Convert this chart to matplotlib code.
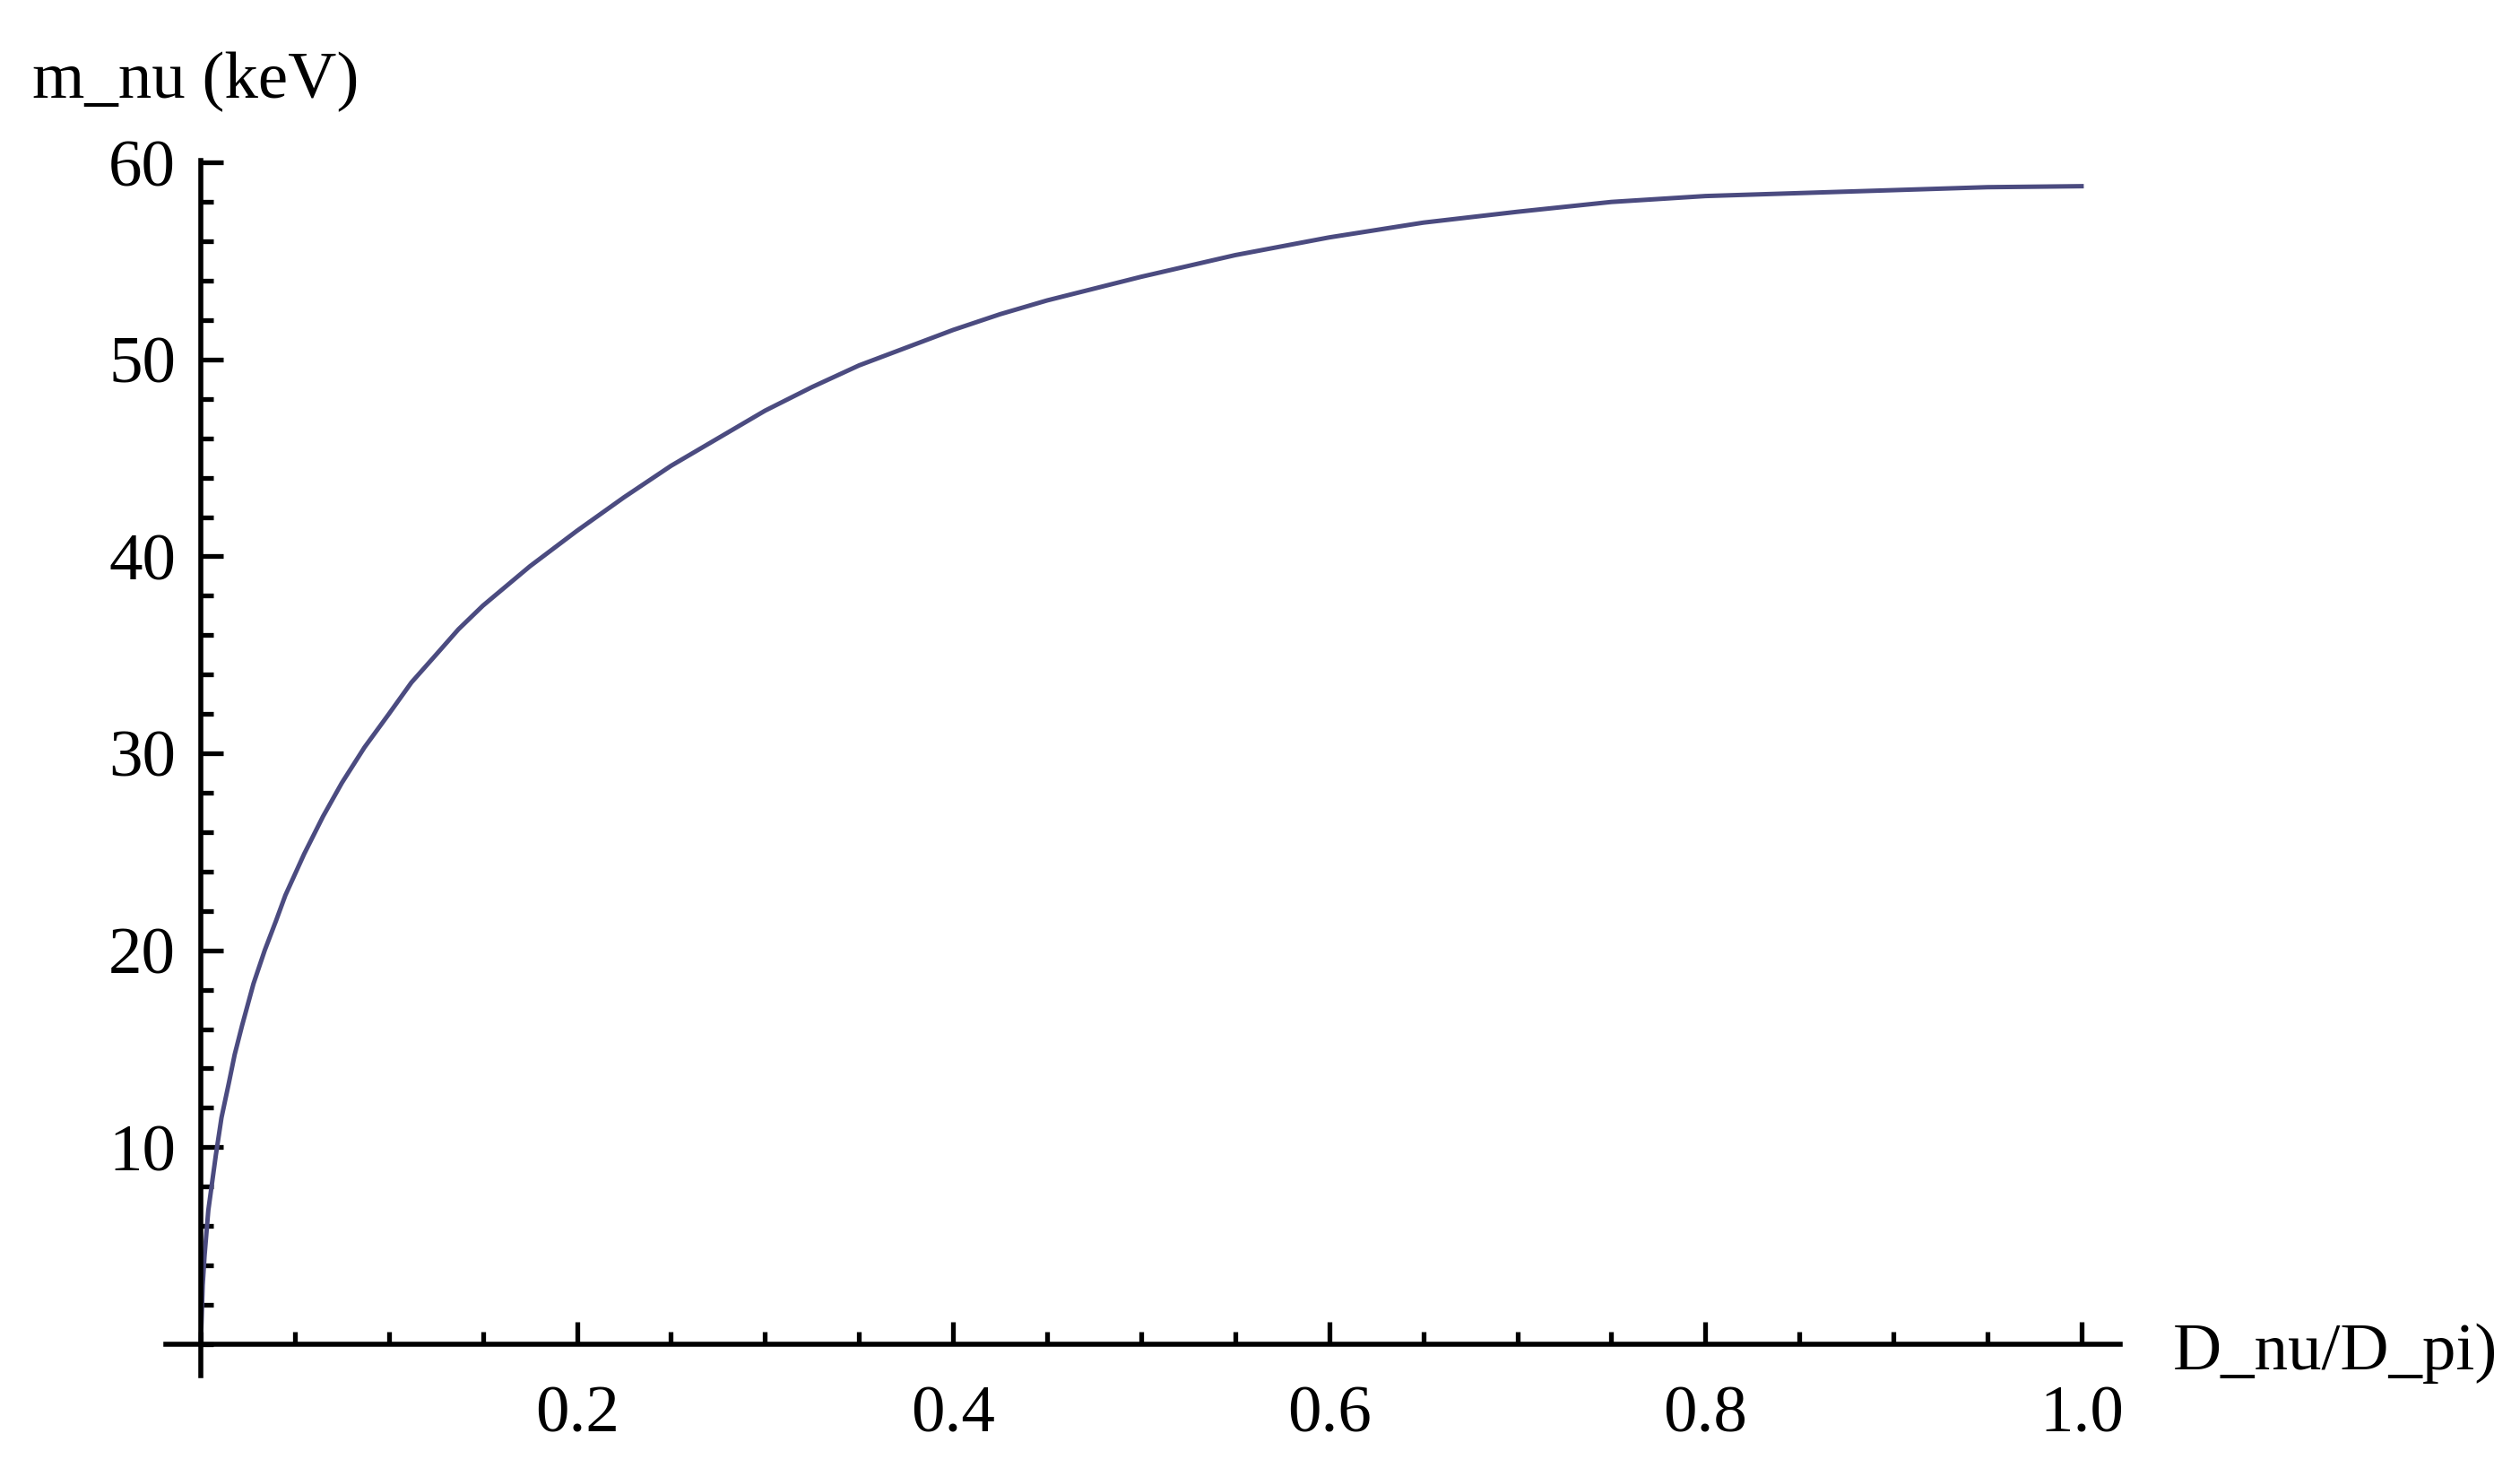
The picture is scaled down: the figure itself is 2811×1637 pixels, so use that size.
import matplotlib
matplotlib.use("Agg")
import matplotlib.pyplot as plt
from matplotlib.ticker import MultipleLocator, FixedLocator

# values
ratio = [0, 0.001, 0.002, 0.004, 0.008, 0.011, 0.015, 0.018, 0.022, 0.028,
         0.034, 0.04, 0.045, 0.055, 0.065, 0.075, 0.087, 0.1, 0.112, 0.125,
         0.137, 0.15, 0.175, 0.2, 0.225, 0.25, 0.275, 0.3, 0.325, 0.35,
         0.375, 0.4, 0.425, 0.45, 0.475, 0.5, 0.55, 0.6, 0.65, 0.7,
         0.75, 0.8, 0.85, 0.9, 0.95, 1.0]
mass = [0, 3.0, 4.5, 6.8, 9.6, 11.5, 13.3, 14.7, 16.2, 18.3,
        20.0, 21.5, 22.8, 24.9, 26.8, 28.5, 30.3, 32.0, 33.6, 35.0,
        36.3, 37.5, 39.5, 41.3, 43.0, 44.6, 46.0, 47.4, 48.6, 49.7,
        50.6, 51.5, 52.3, 53.0, 53.6, 54.2, 55.3, 56.2, 56.95, 57.5,
        58.0, 58.3, 58.45, 58.6, 58.75, 58.8]

xticks = [0.2, 0.4, 0.6, 0.8, 1.0]
xtick_labels = ["0.2", "0.4", "0.6", "0.8", "1.0"]
yticks = [10, 20, 30, 40, 50, 60]

plt.rcParams['font.family'] = ['Liberation Serif', 'DejaVu Serif']

fig = plt.figure(figsize=(28.11, 16.37), dpi=100)
ax = fig.add_axes([0.0658, 0.0629, 0.7755, 0.8277])

ax.plot(ratio, mass, color='#4b4b80', linewidth=3.6, solid_joinstyle='round')

ax.set_xlim(-0.0186, 1.0205)
ax.set_ylim(-1.6, 60.1)

# axes cross at the origin
for side in ['top', 'right']:
    ax.spines[side].set_visible(False)
ax.spines['left'].set_position(('data', 0))
ax.spines['bottom'].set_position(('data', 0))
ax.spines['left'].set_linewidth(4)
ax.spines['bottom'].set_linewidth(4)

ax.xaxis.set_major_locator(FixedLocator(xticks))
ax.set_xticklabels(xtick_labels)
ax.xaxis.set_minor_locator(MultipleLocator(0.05))
ax.yaxis.set_major_locator(FixedLocator(yticks))
ax.yaxis.set_minor_locator(MultipleLocator(2))

ax.tick_params(axis='both', which='major', direction='in', length=18, width=3.8,
               labelsize=54)
ax.tick_params(axis='both', which='minor', direction='in', length=10, width=3.8)
ax.tick_params(axis='x', which='major', pad=33)
ax.tick_params(axis='y', which='major', pad=20)

fig.text(0.0128, 0.933, "m_nu (keV)", fontsize=54, ha='left', va='baseline')
fig.text(0.8623, 0.0672, "D_nu/D_pi)", fontsize=54, ha='left', va='baseline')

fig.savefig("out.png", dpi=100)
